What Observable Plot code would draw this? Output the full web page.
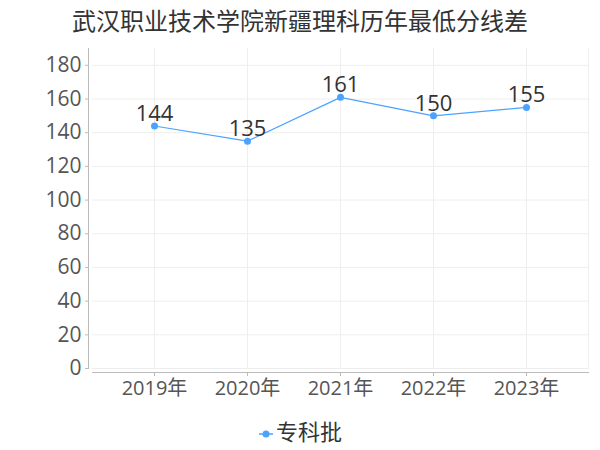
<!DOCTYPE html>
<html><head><meta charset="utf-8">
<script src="https://cdn.jsdelivr.net/npm/d3@7"></script>
<script src="https://cdn.jsdelivr.net/npm/@observablehq/plot@0.6"></script>
<style>
body{margin:0;background:#fff;font-family:"Noto Sans CJK SC","Noto Sans",sans-serif;}
#title{height:40px;line-height:40px;text-align:center;font-size:24px;color:#333;}
#legend{height:40px;line-height:40px;text-align:center;font-size:22px;color:#333;}
#legend svg{vertical-align:middle;margin-right:2px;}
</style></head><body>
<div id="title">武汉职业技术学院新疆理科历年最低分线差</div>
<div id="chart"></div>
<div id="legend"><svg width="16" height="12"><line x1="1" y1="6" x2="15" y2="6" stroke="#4ba3ff" stroke-width="1.5"/><circle cx="8" cy="6" r="3.5" fill="#4ba3ff"/></svg><span>专科批</span></div>
<script>
const years = ["2019","2020","2021","2022","2023"];
const values = [144,135,161,150,155];
const seriesName = "专科批";
const yTicks = [0,20,40,60,80,100,120,140,160,180];
const data = years.map((y,i)=>({year:y, value:values[i]}));
const blue = "#4ba3ff";
const font = '"Open Sans","Noto Sans CJK SC",sans-serif';
const chart = Plot.plot({
  width:600, height:370,
  marginTop:8, marginBottom:42, marginLeft:92, marginRight:12,
  style:{fontFamily:font, fontSize:"20px", color:"#555", background:"transparent"},
  x:{type:"point", domain:years, padding:0.64, label:null},
  y:{domain:[0,190], label:null},
  marks:[
    Plot.gridY(yTicks,{stroke:"#eeeeee", strokeOpacity:1}),
    Plot.gridX(years,{stroke:"#eeeeee", strokeOpacity:1}),
    Plot.frame({anchor:"right", stroke:"#eeeeee"}),
    Plot.frame({anchor:"left", dx:-4, stroke:"#bbbbbb"}),
    Plot.frame({anchor:"bottom", dy:4, stroke:"#bbbbbb"}),
    Plot.axisY(yTicks,{tickSize:3, tickPadding:4, dx:-4, stroke:"#bbbbbb", fill:"#555", fontSize:21, label:null}),
    Plot.axisX({tickSize:4, tickPadding:4, dy:4, stroke:"#bbbbbb", fill:"#555", fontSize:20, label:null, tickFormat:d=>d+"年"}),
    Plot.line(data,{x:"year", y:"value", stroke:blue, strokeWidth:1.2}),
    Plot.dot(data,{x:"year", y:"value", r:3.5, fill:blue}),
    Plot.text(data,{x:"year", y:"value", text:d=>String(d.value), dy:-5, lineAnchor:"bottom", fontSize:22, fill:"#333"})
  ]
});
document.getElementById("chart").appendChild(chart);
</script>
</body></html>
